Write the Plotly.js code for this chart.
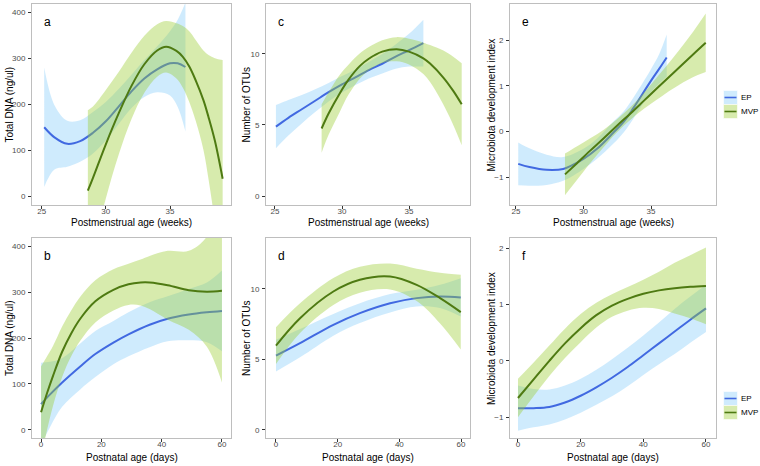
<!DOCTYPE html>
<html><head><meta charset="utf-8">
<script src="https://cdn.plot.ly/plotly-3.0.1.min.js"></script>
<style>html,body{margin:0;padding:0;background:#fff}#chart{width:760px;height:466px}</style>
</head><body><div id="chart"></div>
<script>
// ---- Panel a: Total DNA vs postmenstrual age ----
const aEP_x   = [25.2, 26, 27, 28, 29, 30, 31, 32, 33, 34, 35, 35.6, 36.2];
const aEP_fit = [150, 128, 114, 120, 138, 163, 195, 228, 256, 276, 289, 289, 281];
const aEP_hi  = [280, 198, 164, 165, 183, 205, 233, 264, 296, 326, 359, 384, 421];
const aEP_lo  = [20, 58, 64, 75, 93, 121, 157, 192, 216, 226, 219, 194, 141];
const aMVP_x   = [28.6, 29, 30, 31, 32, 33, 34, 34.7, 35.5, 36, 36.5, 37, 37.6, 38, 38.5, 39.1];
const aMVP_fit = [12, 40, 113, 180, 240, 287, 317, 325, 316, 303, 282, 252, 209, 172, 120, 38];
const aMVP_hi  = [187, 195, 231, 270, 312, 349, 374, 381, 376, 370, 359, 340, 317, 307, 300, 296];
const aMVP_lo  = [-163, -115, -5, 90, 168, 225, 260, 269, 256, 236, 205, 164, 101, 37, -60, -220];

// ---- Panel b: Total DNA vs postnatal age ----
const bEP_x   = [0, 3, 7, 13, 18, 24, 29, 36, 42, 49, 55, 60];
const bEP_fit = [56, 77, 103, 138, 165, 190, 208, 229, 242, 251, 256, 259];
const bEP_hi  = [146, 148, 156, 188, 215, 237, 256, 278, 291, 307, 321, 347];
const bEP_lo  = [-34, 6, 50, 88, 115, 143, 160, 180, 193, 195, 191, 171];
const bMVP_x   = [0, 2, 4, 7, 10, 13, 18, 24, 29, 33, 36, 42, 49, 55, 60];
const bMVP_fit = [38, 80, 118, 170, 210, 242, 280, 305, 317, 321, 321, 315, 304, 301, 303];
const bMVP_hi  = [138, 160, 183, 225, 260, 290, 326, 350, 362, 371, 379, 390, 390, 421, 503];
const bMVP_lo  = [-62, 0, 53, 115, 160, 194, 234, 260, 272, 271, 263, 240, 218, 181, 103];

// ---- Panel c: Number of OTUs vs postmenstrual age ----
const cEP_x   = [25.07, 26, 27, 28, 29, 30, 31, 32, 33, 34, 35, 36.07];
const cEP_fit = [4.88, 5.5, 6.1, 6.7, 7.3, 7.85, 8.35, 8.85, 9.3, 9.8, 10.25, 10.75];
const cEP_hi  = [6.40, 6.75, 7.10, 7.50, 7.95, 8.43, 8.90, 9.43, 9.98, 10.65, 11.40, 12.40];
const cEP_lo  = [3.36, 4.25, 5.10, 5.90, 6.65, 7.27, 7.80, 8.27, 8.62, 8.95, 9.10, 9.10];
const cMVP_x   = [28.48, 29, 29.85, 30.5, 31.34, 32, 33, 34.08, 35, 36.07, 36.57, 37.56, 38.3, 38.93];
const cMVP_fit = [4.75, 5.8, 7.25, 8.2, 9.15, 9.65, 10.15, 10.32, 10.15, 9.68, 9.31, 8.33, 7.39, 6.45];
const cMVP_hi  = [6.45, 7.30, 8.55, 9.25, 10.03, 10.47, 10.95, 11.17, 11.05, 10.78, 10.61, 10.23, 9.79, 9.33];
const cMVP_lo  = [3.05, 4.30, 5.95, 7.15, 8.27, 8.83, 9.35, 9.47, 9.25, 8.58, 8.01, 6.43, 4.99, 3.57];

// ---- Panel d: Number of OTUs vs postnatal age ----
const dEP_x   = [0, 7.8, 18.6, 27.2, 37, 45.6, 53.2, 59.9];
const dEP_fit = [5.27, 6.15, 7.45, 8.28, 8.98, 9.34, 9.46, 9.39];
const dEP_hi  = [6.39, 7.15, 8.22, 8.98, 9.63, 9.93, 10.28, 10.75];
const dEP_lo  = [4.15, 5.15, 6.68, 7.58, 8.33, 8.75, 8.64, 8.03];
const dMVP_x   = [0, 7.8, 18.6, 27.2, 37, 45.6, 53.2, 59.9];
const dMVP_fit = [5.98, 7.92, 9.81, 10.64, 10.87, 10.28, 9.34, 8.35];
const dMVP_hi  = [7.28, 8.97, 10.76, 11.56, 11.79, 11.43, 11.14, 11.0];
const dMVP_lo  = [4.68, 6.87, 8.86, 9.72, 9.95, 9.13, 7.54, 5.7];

// ---- Panel e: Microbiota development index vs postmenstrual age ----
const eEP_x   = [25.17, 26, 27.27, 28.5, 30, 31, 32.2, 33, 33.69, 34.93, 35.6, 36.16];
const eEP_fit = [-0.71, -0.78, -0.84, -0.82, -0.6, -0.38, -0.03, 0.22, 0.51, 1.08, 1.37, 1.62];
const eEP_hi  = [-0.24, -0.37, -0.51, -0.56, -0.38, -0.16, 0.21, 0.45, 0.74, 1.33, 1.69, 2.12];
const eEP_lo  = [-1.18, -1.19, -1.17, -1.08, -0.82, -0.6, -0.27, -0.01, 0.28, 0.83, 1.05, 1.20];
const eMVP_x   = [28.63, 29.5, 30.5, 31.5, 32.5, 33.5, 34.5, 35.5, 36.65, 38.13, 39.05];
const eMVP_fit = [-0.94, -0.70, -0.42, -0.15, 0.13, 0.40, 0.68, 0.96, 1.28, 1.69, 1.94];
const eMVP_hi  = [-0.485, -0.33, -0.15, 0.04, 0.27, 0.54, 0.86, 1.21, 1.62, 2.19, 2.58];
const eMVP_lo  = [-1.395, -1.07, -0.69, -0.34, -0.01, 0.26, 0.50, 0.71, 0.94, 1.19, 1.30];

// ---- Panel f: Microbiota development index vs postnatal age ----
const fEP_x   = [0, 5, 10, 15, 20, 25, 30, 35, 40, 45, 50, 55, 60];
const fEP_fit = [-0.84, -0.84, -0.82, -0.74, -0.62, -0.47, -0.3, -0.11, 0.1, 0.31, 0.52, 0.73, 0.93];
const fEP_hi  = [-0.44, -0.50, -0.51, -0.44, -0.32, -0.16, 0.03, 0.23, 0.45, 0.68, 0.92, 1.14, 1.35];
const fEP_lo  = [-1.24, -1.18, -1.13, -1.04, -0.92, -0.78, -0.63, -0.45, -0.25, -0.06, 0.12, 0.32, 0.51];
const fMVP_x   = [0, 5, 10, 15, 20, 25, 30, 35, 40, 45, 50, 55, 60];
const fMVP_fit = [-0.66, -0.33, 0.0, 0.31, 0.58, 0.81, 0.98, 1.1, 1.19, 1.25, 1.29, 1.315, 1.33];
const fMVP_hi  = [-0.32, -0.03, 0.27, 0.57, 0.83, 1.03, 1.18, 1.31, 1.44, 1.58, 1.74, 1.875, 2.01];
const fMVP_lo  = [-1.0, -0.63, -0.27, 0.05, 0.33, 0.59, 0.78, 0.89, 0.94, 0.92, 0.84, 0.755, 0.65];

// ---- Labels ----
const panelLabels = ['a', 'b', 'c', 'd', 'e', 'f'];
const groupNames = ['EP', 'MVP'];
const xTitles = ['Postmenstrual age (weeks)', 'Postnatal age (days)'];
const yTitles = ['Total DNA (ng/ul)', 'Number of OTUs', 'Microbiota development index'];
const xTicksPMA = [25, 30, 35];
const xTicksPNA = [0, 20, 40, 60];
const yTicksDNA = [0, 100, 200, 300, 400];
const yTicksOTU = [0, 5, 10];
const yTicksMDI = [-1, 0, 1, 2];

// ---- styling ----
const LINE = {EP: '#4169E1', MVP: '#4E7A12'};
const FILL = {EP: 'rgba(135,206,250,0.4)', MVP: 'rgba(154,205,50,0.4)'};
const W = 760, H = 466;
const px = v => v / W, py = v => 1 - v / H;

const series = {
  a: [[aEP_x, aEP_fit, aEP_lo, aEP_hi], [aMVP_x, aMVP_fit, aMVP_lo, aMVP_hi]],
  b: [[bEP_x, bEP_fit, bEP_lo, bEP_hi], [bMVP_x, bMVP_fit, bMVP_lo, bMVP_hi]],
  c: [[cEP_x, cEP_fit, cEP_lo, cEP_hi], [cMVP_x, cMVP_fit, cMVP_lo, cMVP_hi]],
  d: [[dEP_x, dEP_fit, dEP_lo, dEP_hi], [dMVP_x, dMVP_fit, dMVP_lo, dMVP_hi]],
  e: [[eEP_x, eEP_fit, eEP_lo, eEP_hi], [eMVP_x, eMVP_fit, eMVP_lo, eMVP_hi]],
  f: [[fEP_x, fEP_fit, fEP_lo, fEP_hi], [fMVP_x, fMVP_fit, fMVP_lo, fMVP_hi]]
};

const traces = [];
panelLabels.forEach((p, i) => {
  const n = i + 1;
  const xa = n === 1 ? 'x' : 'x' + n, ya = n === 1 ? 'y' : 'y' + n;
  series[p].forEach((s, g) => {
    const name = groupNames[g];
    const [xs, fit, lo, hi] = s;
    traces.push({x: xs, y: lo, xaxis: xa, yaxis: ya, mode: 'lines', line: {width: 0, shape: 'spline', smoothing: 1}, hoverinfo: 'skip', showlegend: false});
    traces.push({x: xs, y: hi, xaxis: xa, yaxis: ya, mode: 'lines', fill: 'tonexty', fillcolor: FILL[name], line: {width: 0, shape: 'spline', smoothing: 1}, hoverinfo: 'skip', showlegend: false});
    traces.push({x: xs, y: fit, xaxis: xa, yaxis: ya, mode: 'lines', name: name, line: {color: LINE[name], width: 2, shape: 'spline', smoothing: 1}, showlegend: false});
  });
});

const colX = [[32, 231], [266, 470], [510, 716]];
const rowY = [[4, 205], [238, 438]];
const xRanges = [[24.25, 39.75], [-3, 63], [24.33, 39.55], [-3.24, 62.9], [24.56, 39.81], [-2.55, 63.2]];
const yRanges = [[-19, 418], [-18, 418], [-0.63, 13.5], [-0.57, 13.6], [-1.61, 2.79], [-1.37, 2.18]];
const yTickSets = [yTicksDNA, yTicksDNA, yTicksOTU, yTicksOTU, yTicksMDI, yTicksMDI];
const yTitleX = [9, 246, 491];
const xTitleY = [222, 457.5];

const layout = {
  width: W, height: H, margin: {l: 0, r: 0, t: 0, b: 0},
  paper_bgcolor: '#fff', plot_bgcolor: '#fff',
  font: {family: 'Liberation Sans, Arial, sans-serif', color: '#000'},
  showlegend: false, shapes: [], annotations: []
};
const axBase = {showgrid: false, zeroline: false, showline: true, mirror: true, linecolor: '#BEBEBE', linewidth: 1,
  ticks: 'outside', ticklen: 3, tickcolor: '#333', tickwidth: 1, tickfont: {size: 8, color: '#4D4D4D'}, fixedrange: true};

panelLabels.forEach((p, i) => {
  const n = i + 1, col = Math.floor(i / 2), row = i % 2;
  const xk = n === 1 ? 'xaxis' : 'xaxis' + n, yk = n === 1 ? 'yaxis' : 'yaxis' + n;
  const ya = n === 1 ? 'y' : 'y' + n, xa = n === 1 ? 'x' : 'x' + n;
  layout[xk] = Object.assign({}, axBase, {
    domain: [px(colX[col][0]), px(colX[col][1])], anchor: ya, range: xRanges[i],
    tickmode: 'array', tickvals: row === 0 ? xTicksPMA : xTicksPNA, ticklabelstandoff: -5
  });
  layout[yk] = Object.assign({}, axBase, {
    domain: [py(rowY[row][1]), py(rowY[row][0])], anchor: xa, range: yRanges[i],
    tickmode: 'array', tickvals: yTickSets[i], ticklabelstandoff: 1
  });
  // axis titles
  layout.annotations.push({text: xTitles[row], xref: 'paper', yref: 'paper',
    x: px((colX[col][0] + colX[col][1]) / 2), y: py(xTitleY[row]), xanchor: 'center', yanchor: 'middle',
    showarrow: false, font: {size: 10, color: '#000'}});
  layout.annotations.push({text: yTitles[col], xref: 'paper', yref: 'paper', textangle: -90,
    x: px(yTitleX[col]), y: py((rowY[row][0] + rowY[row][1]) / 2), xanchor: 'center', yanchor: 'middle',
    showarrow: false, font: {size: 10, color: '#000'}});
  // panel letter
  layout.annotations.push({text: p, xref: xa + ' domain', yref: ya + ' domain', x: 0.05, y: 0.955,
    xanchor: 'left', yanchor: 'top', showarrow: false, font: {size: 12, color: '#000'}});
});

// legends (one per row)
const legRows = [[97.5, 111.5], [398.5, 412.5]];
legRows.forEach(ys => {
  groupNames.forEach((name, g) => {
    const yc = ys[g];
    layout.shapes.push({type: 'rect', xref: 'paper', yref: 'paper', x0: px(723.5), x1: px(737.5), y0: py(yc - 7), y1: py(yc + 7),
      fillcolor: FILL[name], line: {width: 0.6, color: '#FFFFFF'}});
    layout.shapes.push({type: 'line', xref: 'paper', yref: 'paper', x0: px(724.5), x1: px(736.5), y0: py(yc), y1: py(yc),
      line: {color: LINE[name], width: 1.6}});
    layout.annotations.push({text: name, xref: 'paper', yref: 'paper', x: px(739), y: py(yc), xanchor: 'left', yanchor: 'middle',
      showarrow: false, font: {size: 8, color: '#000'}});
  });
});

Plotly.newPlot('chart', traces, layout, {displayModeBar: false, staticPlot: true});
</script></body></html>
